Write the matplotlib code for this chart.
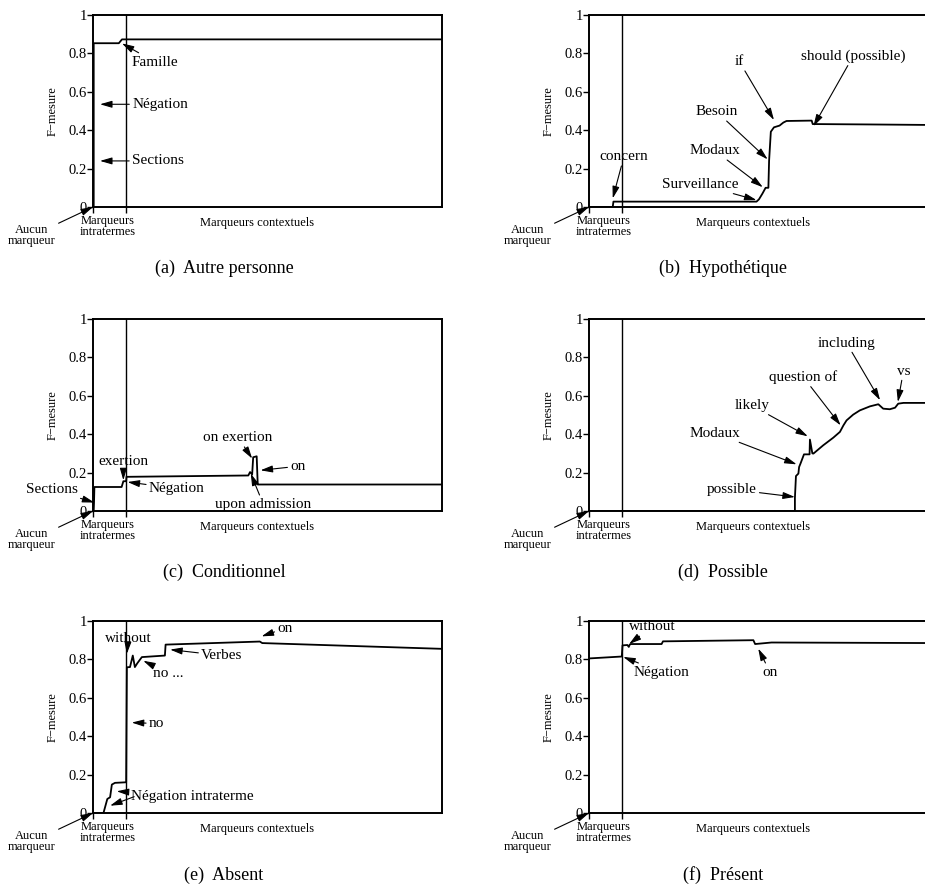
import numpy as np
import matplotlib
matplotlib.use('Agg')
import matplotlib.pyplot as plt

plt.rcParams['font.family'] = ['Liberation Serif', 'DejaVu Serif']

# x positions are on a 0..1000 scale (order of markers added), intratermes boundary at 95
intra = 95

a_x = [0, 2, 2, 74, 83, 1000]
a_y = [0, 0, 0.853, 0.853, 0.873, 0.873]

b_x = [0, 68, 70, 480, 487, 497, 506, 514, 516, 521, 530, 546, 557, 566, 638, 641, 800, 1000]
b_y = [0, 0, 0.028, 0.028, 0.04, 0.07, 0.1, 0.1, 0.24, 0.392, 0.415, 0.424, 0.44, 0.448, 0.45, 0.432, 0.43, 0.427]

c_x = [0, 2, 3, 4, 82, 87, 95, 96, 445, 450, 456, 459, 469, 472, 1000]
c_y = [0, 0, 0.05, 0.125, 0.125, 0.155, 0.155, 0.178, 0.185, 0.203, 0.19, 0.28, 0.285, 0.138, 0.138]

d_x = [0, 590, 590, 593, 600, 602, 606, 616, 632, 633, 640, 643, 671, 700, 719, 729, 738,
       757, 776, 805, 829, 843, 862, 877, 886, 901, 1000]
d_y = [0, 0, 0.068, 0.182, 0.195, 0.229, 0.247, 0.295, 0.295, 0.372, 0.3, 0.299, 0.342, 0.382,
       0.412, 0.446, 0.472, 0.502, 0.524, 0.545, 0.556, 0.533, 0.53, 0.538, 0.559, 0.563, 0.563]

e_x = [0, 30, 41, 49, 54, 63, 95, 97, 106, 114, 120, 127, 140, 206, 208, 478, 485, 1000]
e_y = [0, 0, 0.073, 0.082, 0.148, 0.157, 0.16, 0.759, 0.76, 0.82, 0.76, 0.78, 0.812, 0.82,
       0.877, 0.893, 0.885, 0.855]

f_x = [0, 94, 96, 110, 114, 117, 120, 208, 212, 471, 476, 523, 1000]
f_y = [0.805, 0.815, 0.873, 0.875, 0.865, 0.878, 0.88, 0.88, 0.894, 0.9, 0.88, 0.888, 0.885]

# (label, tip x, tip y, text x, text y)
a_notes = [('Famille', 83, 0.852, 178, 0.755),
           ('Négation', 20, 0.535, 192, 0.535),
           ('Sections', 20, 0.24, 186, 0.24)]
b_notes = [('concern', 68, 0.045, 100, 0.262),
           ('Surveillance', 480, 0.036, 318, 0.118),
           ('Modaux', 498, 0.103, 361, 0.293),
           ('Besoin', 512, 0.248, 366, 0.496),
           ('if', 530, 0.453, 431, 0.757),
           ('should (possible)', 643, 0.42, 757, 0.786)]
c_notes = [('Sections', 4, 0.044, -118, 0.111),
           ('exertion', 87, 0.16, 87, 0.259),
           ('Négation', 99, 0.151, 240, 0.117),
           ('on exertion', 456, 0.273, 416, 0.382),
           ('on', 480, 0.212, 587, 0.233),
           ('upon admission', 452, 0.195, 488, 0.035)]
d_notes = [('possible', 590, 0.073, 409, 0.113),
           ('Modaux', 595, 0.243, 361, 0.406),
           ('likely', 627, 0.389, 466, 0.55),
           ('question of', 721, 0.446, 614, 0.698),
           ('including', 834, 0.577, 738, 0.875),
           ('vs', 885, 0.568, 901, 0.729)]
e_notes = [('without', 97, 0.829, 101, 0.911),
           ('no ...', 144, 0.793, 216, 0.728),
           ('Verbes', 221, 0.851, 369, 0.82),
           ('on', 483, 0.92, 550, 0.962),
           ('no', 111, 0.471, 182, 0.466),
           ('Négation intraterme', 68, 0.113, 285, 0.087),
           ('', 49, 0.038, 118, 0.085)]
f_notes = [('without', 115, 0.88, 180, 0.969),
           ('Négation', 98, 0.813, 208, 0.733),
           ('on', 485, 0.856, 519, 0.733)]

captions = ['(a)  Autre personne', '(b)  Hypothétique', '(c)  Conditionnel',
            '(d)  Possible', '(e)  Absent', '(f)  Présent']

panels = [(a_x, a_y, a_notes), (b_x, b_y, b_notes), (c_x, c_y, c_notes),
          (d_x, d_y, d_notes), (e_x, e_y, e_notes), (f_x, f_y, f_notes)]

W, H = 925, 890
fig = plt.figure(figsize=(W / 100, H / 100), dpi=100)

lefts = [93, 589]
bottoms = [207, 511, 813]
cap_x = [224, 723]
cap_y = [268, 572, 875]

arrow = dict(arrowstyle='-|>,head_length=0.45,head_width=0.13', color='k', lw=0.8,
             mutation_scale=16, shrinkA=0, shrinkB=0)

for i, (xs, ys, notes) in enumerate(panels):
    r, c = i // 2, i % 2
    ax = fig.add_axes([lefts[c] / W, (H - bottoms[r]) / H, 349 / W, 192 / H])
    ax.plot(xs, ys, color='k', lw=1.3)
    ax.axvline(intra, color='k', lw=1)
    ax.set_xlim(0, 1000)
    ax.set_ylim(0, 1)
    for s in ax.spines.values():
        s.set_linewidth(1.4)
    ax.set_yticks([0, 0.2, 0.4, 0.6, 0.8, 1])
    ax.set_yticklabels(['0', '0.2', '0.4', '0.6', '0.8', '1'])
    ax.set_xticks([0, intra])
    ax.set_xticklabels([])
    ax.tick_params(direction='out', length=4, width=1, labelsize=10.5, pad=0.5)
    ax.set_ylabel('F\u2212mesure', fontsize=9)
    ax.yaxis.set_label_coords(-0.098, 0.5)
    ax.text(0.043, -0.1, 'Marqueurs\nintratermes', transform=ax.transAxes, ha='center',
            va='center', fontsize=9, linespacing=0.85)
    ax.text(0.47, -0.083, 'Marqueurs contextuels', transform=ax.transAxes, ha='center',
            va='center', fontsize=9)
    ax.annotate('Aucun\nmarqueur', xy=(0, 0), xytext=(-0.175, -0.15), textcoords='axes fraction',
                ha='center', va='center', fontsize=9, linespacing=0.85, annotation_clip=False,
                arrowprops=arrow)
    for label, tx, ty, lx, ly in notes:
        ax.annotate(label, xy=(tx, ty), xytext=(lx, ly), ha='center', va='center',
                    fontsize=11, annotation_clip=False, arrowprops=arrow)
    fig.text(cap_x[c] / W, 1 - cap_y[r] / H, captions[i], ha='center', va='center', fontsize=13)

plt.savefig('out.png', dpi=100)
